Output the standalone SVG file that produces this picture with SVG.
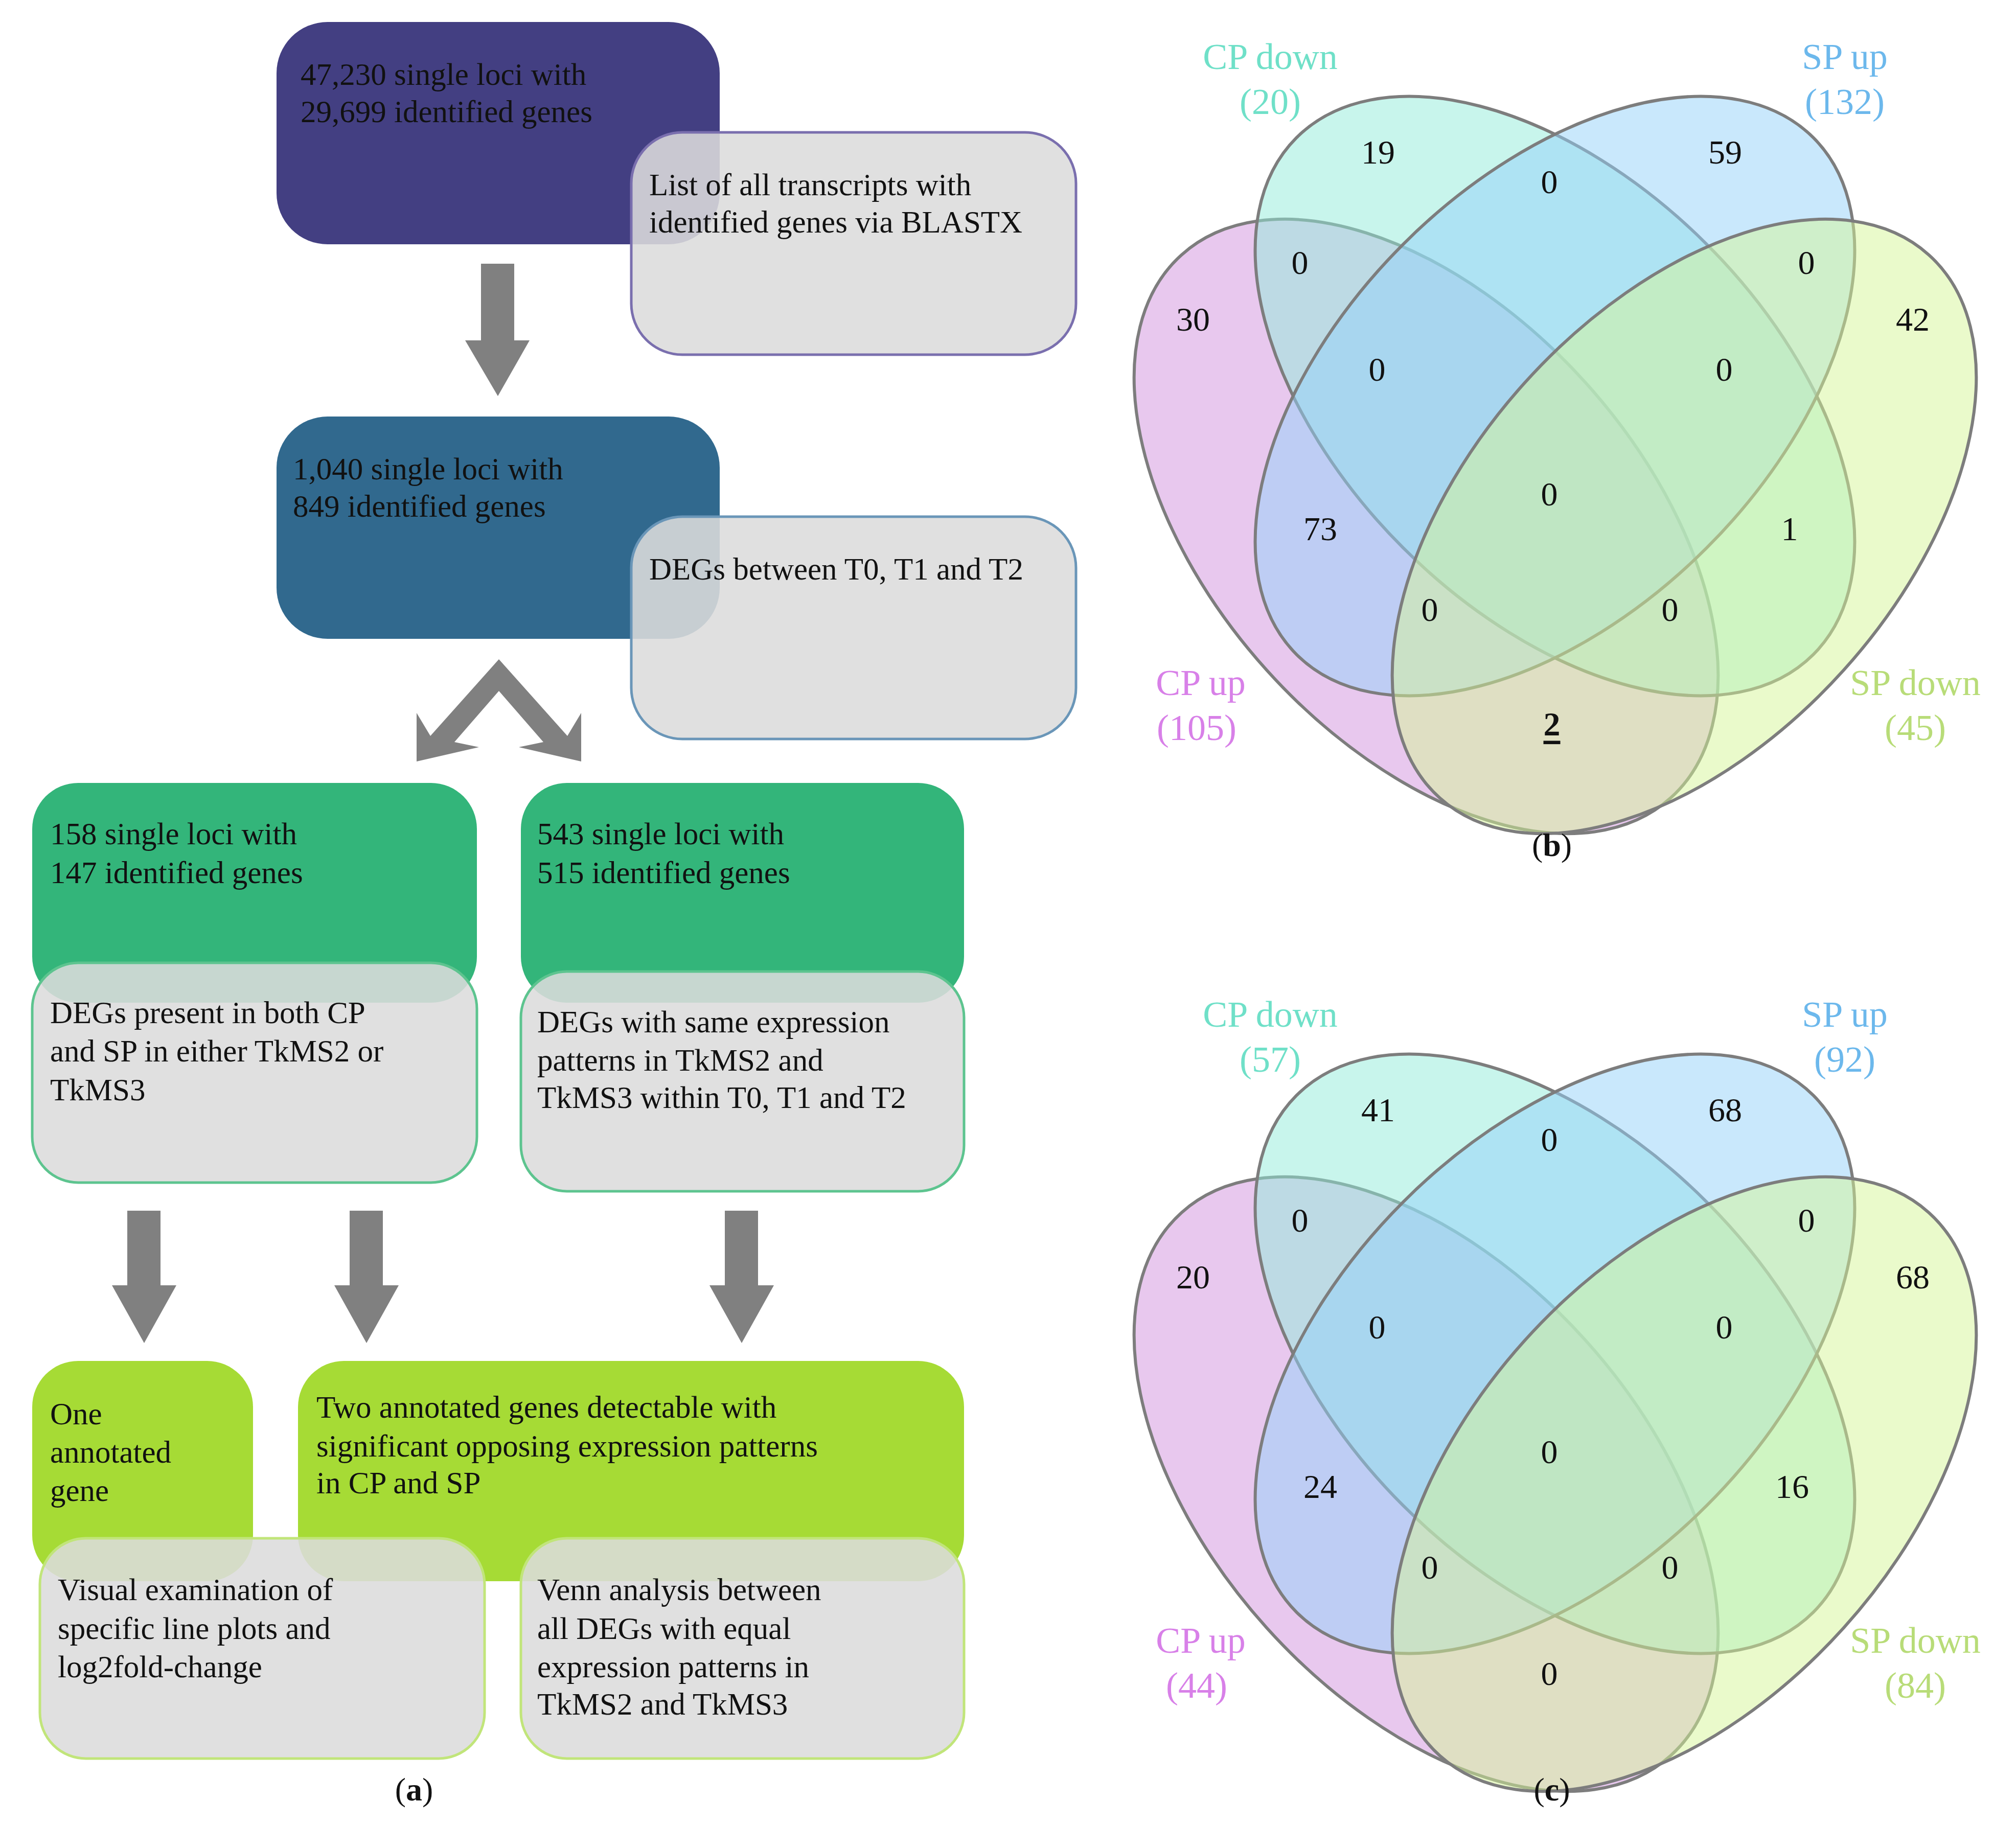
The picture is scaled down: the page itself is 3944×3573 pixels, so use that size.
<svg xmlns="http://www.w3.org/2000/svg" width="3944" height="3573" viewBox="0 0 3944 3573">
<style>
text{font-family:"Liberation Serif","DejaVu Serif",serif;fill:#111}
.t{font-size:61px}
.n{font-size:66px;text-anchor:middle;dominant-baseline:central}
.lb{font-size:72px;text-anchor:middle}
.cap{font-size:64px;text-anchor:middle}
.g{fill:#dcdcdc;fill-opacity:0.88;stroke-width:5}
.e{stroke:#7d7d7d;stroke-width:6;fill-opacity:0.5}
.ar{fill:#808080}
</style>
<defs>
<g id="venn">
<ellipse class="e" cx="0" cy="0" rx="715" ry="420" transform="translate(2790,1030) rotate(48)" fill="#d191dd"/>
<ellipse class="e" cx="0" cy="0" rx="715" ry="420" transform="translate(3042,775) rotate(45)" fill="#91ebd9"/>
<ellipse class="e" cx="0" cy="0" rx="715" ry="420" transform="translate(3042,775) rotate(-45)" fill="#93d1f9"/>
<ellipse class="e" cx="0" cy="0" rx="715" ry="420" transform="translate(3295,1030) rotate(-48)" fill="#d5f597"/>
</g>
</defs>
<g id="nodes">
<g id="box1"><rect x="541" y="43" width="867" height="435" rx="100" fill="#433f82"/><text class="t" x="588" y="166">47,230 single loci with</text><text class="t" x="588" y="239">29,699 identified genes</text></g>
<g id="box1b"><rect class="g" x="1235" y="259" width="870" height="435" rx="100" stroke="#7a6fae"/><text class="t" x="1270" y="382">List of all transcripts with</text><text class="t" x="1270" y="455">identified genes via BLASTX</text></g>
<g id="box2"><rect x="541" y="815" width="867" height="435" rx="100" fill="#31698e"/><text class="t" x="573" y="938">1,040 single loci with</text><text class="t" x="573" y="1011">849 identified genes</text></g>
<g id="box2b"><rect class="g" x="1235" y="1011" width="870" height="435" rx="100" stroke="#6a96b8"/><text class="t" x="1270" y="1134">DEGs between T0, T1 and T2</text></g>
<g id="box3"><rect x="63" y="1532" width="870" height="430" rx="90" fill="#33b57a"/><text class="t" x="98" y="1652">158 single loci with</text><text class="t" x="98" y="1728">147 identified genes</text></g>
<g id="box3b"><rect class="g" x="63" y="1884" width="870" height="430" rx="90" stroke="#5dc48f"/><text class="t" x="98" y="2002">DEGs present in both CP</text><text class="t" x="98" y="2077">and SP in either TkMS2 or</text><text class="t" x="98" y="2153">TkMS3</text></g>
<g id="box4"><rect x="1019" y="1532" width="867" height="430" rx="90" fill="#33b57a"/><text class="t" x="1051" y="1652">543 single loci with</text><text class="t" x="1051" y="1728">515 identified genes</text></g>
<g id="box4b"><rect class="g" x="1019" y="1901" width="867" height="430" rx="90" stroke="#5dc48f"/><text class="t" x="1051" y="2020">DEGs with same expression</text><text class="t" x="1051" y="2095">patterns in TkMS2 and</text><text class="t" x="1051" y="2168">TkMS3 within T0, T1 and T2</text></g>
<g id="box5"><rect x="63" y="2663" width="432" height="431" rx="90" fill="#a6db35"/><text class="t" x="98" y="2787">One</text><text class="t" x="98" y="2862">annotated</text><text class="t" x="98" y="2937">gene</text></g>
<g id="box6"><rect x="583" y="2663" width="1303" height="431" rx="90" fill="#a6db35"/><text class="t" x="619" y="2774">Two annotated genes detectable with</text><text class="t" x="619" y="2850">significant opposing expression patterns</text><text class="t" x="619" y="2922">in CP and SP</text></g>
<g id="box5b"><rect class="g" x="78" y="3010" width="870" height="431" rx="90" stroke="#c1e57a"/><text class="t" x="113" y="3131">Visual examination of</text><text class="t" x="113" y="3207">specific line plots and</text><text class="t" x="113" y="3282">log2fold-change</text></g>
<g id="box6b"><rect class="g" x="1019" y="3010" width="867" height="431" rx="90" stroke="#c1e57a"/><text class="t" x="1051" y="3131">Venn analysis between</text><text class="t" x="1051" y="3207">all DEGs with equal</text><text class="t" x="1051" y="3282">expression patterns in</text><text class="t" x="1051" y="3355">TkMS2 and TkMS3</text></g>
</g>
<g id="connectors">
<polygon class="ar" points="941,516 1006,516 1006,666 1036,666 974,775 910,666 941,666"/>
<polygon class="ar" points="976,1290 1110,1440 1137,1395 1137,1490 1015,1462 1063,1452 976,1352 889,1452 937,1462 815,1490 815,1395 842,1440"/>
<polygon class="ar" points="249,2369 314,2369 314,2515 345,2515 282,2628 219,2515 249,2515"/>
<polygon class="ar" points="684,2369 749,2369 749,2515 780,2515 717,2628 654,2515 684,2515"/>
<polygon class="ar" points="1418,2369 1483,2369 1483,2515 1514,2515 1451,2628 1388,2515 1418,2515"/>
</g>
<text class="cap" x="810" y="3523">(<tspan font-weight="bold">a</tspan>)</text>
<g id="vennB">
<use href="#venn"/>
<text class="lb" x="2485" y="135" fill="#6fe0c8" style="fill:#6fe0c8">CP down</text><text class="lb" x="2485" y="223" style="fill:#6fe0c8">(20)</text>
<text class="lb" x="3609" y="135" style="fill:#6cb8ec">SP up</text><text class="lb" x="3609" y="223" style="fill:#6cb8ec">(132)</text>
<text class="lb" x="2349" y="1360" style="fill:#d880e8">CP up</text><text class="lb" x="2341" y="1448" style="fill:#d880e8">(105)</text>
<text class="lb" x="3747" y="1360" style="fill:#b8dc78">SP down</text><text class="lb" x="3747" y="1448" style="fill:#b8dc78">(45)</text>
<text class="n" x="2696" y="297">19</text><text class="n" x="3031" y="355">0</text><text class="n" x="3375" y="297">59</text>
<text class="n" x="2543" y="513">0</text><text class="n" x="2334" y="624">30</text><text class="n" x="3534" y="513">0</text><text class="n" x="3742" y="624">42</text>
<text class="n" x="2694" y="722">0</text><text class="n" x="3373" y="722">0</text><text class="n" x="3031" y="966">0</text>
<text class="n" x="2583" y="1034">73</text><text class="n" x="3501" y="1034">1</text>
<text class="n" x="2797" y="1192">0</text><text class="n" x="3267" y="1192">0</text>
<text class="n" x="3036" y="1416" font-weight="bold" text-decoration="underline">2</text>
<text class="cap" x="3036" y="1675">(<tspan font-weight="bold">b</tspan>)</text>
</g>
<g id="vennC" >
<use href="#venn" transform="translate(0,1874)"/>
<text class="lb" x="2485" y="2009" style="fill:#6fe0c8">CP down</text><text class="lb" x="2485" y="2097" style="fill:#6fe0c8">(57)</text>
<text class="lb" x="3609" y="2009" style="fill:#6cb8ec">SP up</text><text class="lb" x="3609" y="2097" style="fill:#6cb8ec">(92)</text>
<text class="lb" x="2349" y="3234" style="fill:#d880e8">CP up</text><text class="lb" x="2341" y="3322" style="fill:#d880e8">(44)</text>
<text class="lb" x="3747" y="3234" style="fill:#b8dc78">SP down</text><text class="lb" x="3747" y="3322" style="fill:#b8dc78">(84)</text>
<text class="n" x="2696" y="2171">41</text><text class="n" x="3031" y="2229">0</text><text class="n" x="3375" y="2171">68</text>
<text class="n" x="2543" y="2387">0</text><text class="n" x="2334" y="2498">20</text><text class="n" x="3534" y="2387">0</text><text class="n" x="3742" y="2498">68</text>
<text class="n" x="2694" y="2596">0</text><text class="n" x="3373" y="2596">0</text><text class="n" x="3031" y="2840">0</text>
<text class="n" x="2583" y="2908">24</text><text class="n" x="3506" y="2908">16</text>
<text class="n" x="2797" y="3066">0</text><text class="n" x="3267" y="3066">0</text>
<text class="n" x="3031" y="3274">0</text>
<text class="cap" x="3036" y="3523">(<tspan font-weight="bold">c</tspan>)</text>
</g>
</svg>
